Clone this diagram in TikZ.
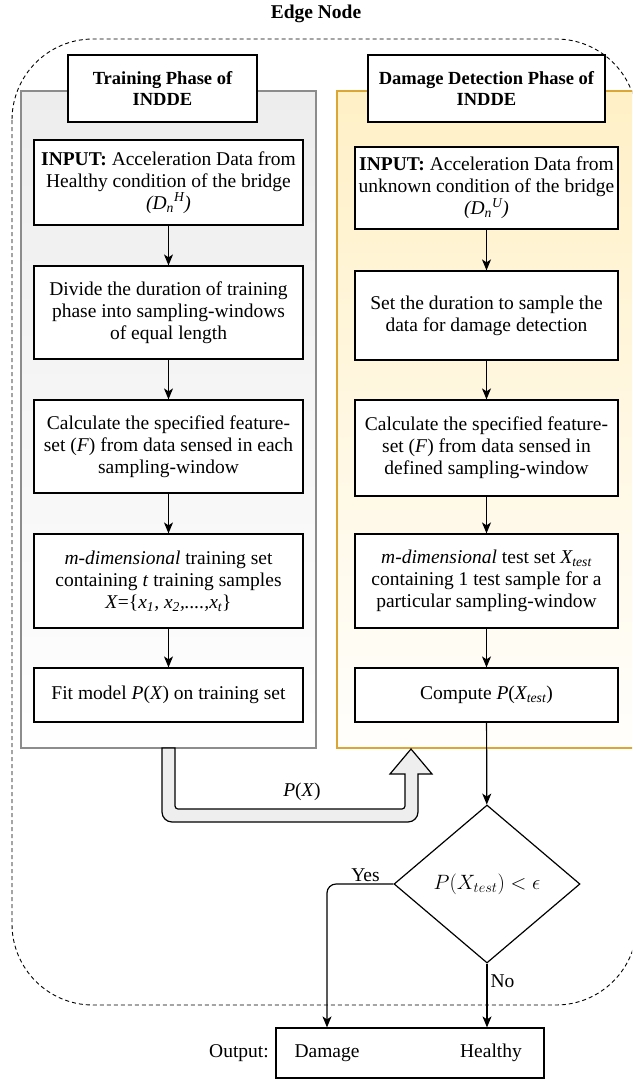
\documentclass[tikz,border=0pt]{standalone}
\usepackage{fontspec}
\setmainfont{Liberation Serif}
\usetikzlibrary{arrows.meta,shapes.geometric}

\definecolor{trainfill}{HTML}{EDEDED}
\definecolor{trainline}{HTML}{8C8C8C}
\definecolor{detectfill}{HTML}{FFF0C6}
\definecolor{detectline}{HTML}{DCA634}
\definecolor{pipefill}{HTML}{EEEEEE}

\begin{document}
\begin{tikzpicture}[x=1pt,y=-1pt,>={Stealth[length=11pt,width=9pt,inset=3pt]},
  line width=1.2pt,
  txt/.style={font=\fontsize{19.5}{22}\selectfont},
  box/.style={draw,fill=white,align=center,inner sep=2pt,txt},
  left box/.style={box,minimum width=269pt},
  right box/.style={box,minimum width=263pt},
  head node/.style={draw,fill=white,align=center,minimum height=67pt,
    font=\fontsize{18.5}{21}\selectfont\bfseries},
  edge zone/.style={draw,dash pattern=on 4pt off 3pt,line width=0.9pt,rounded corners=81pt}]

  \useasboundingbox (0,0) rectangle (632,1087);
  \clip (0,0) rectangle (632,1087);

  \node[font=\fontsize{19.5}{22}\selectfont\bfseries] (title) at (316,14) {Edge Node};
  \draw[edge zone] (12,39) rectangle (637,1005);

  % phase panels
  \node[draw=trainline,top color=trainfill,bottom color=white!97!trainfill,
    minimum width=295pt,minimum height=657pt] (train) at (168.5,419.5) {};
  \node[draw=detectline,top color=detectfill,bottom color=white!95!detectfill,
    minimum width=303pt,minimum height=657pt] (detect) at (488.5,419.5) {};
  \node[head node,minimum width=189pt] (trainhd) at (162.5,88.5) {Training Phase of\\INDDE};
  \node[head node,minimum width=237pt] (detecthd) at (486.5,88.5) {Damage Detection Phase of\\INDDE};

  % training column
  \node[left box,minimum height=85pt] (L1) at (168.5,182.5)
    {\textbf{INPUT:} Acceleration Data from\\Healthy condition of the bridge\\\textit{(D\textsubscript{n}\textsuperscript{H})}};
  \node[left box,minimum height=93pt] (L2) at (168.5,312.5)
    {Divide the duration of training\\phase into sampling-windows\\of equal length};
  \node[left box,minimum height=93pt] (L3) at (168.5,446.5)
    {Calculate the specified feature-\\set (\textit{F}) from data sensed in each\\sampling-window};
  \node[left box,minimum height=94pt] (L4) at (168.5,581)
    {\textit{m-dimensional} training set\\containing \textit{t} training samples\\\textit{X}=\{\textit{x\textsubscript{1}, x\textsubscript{2},....,x\textsubscript{t}}\}};
  \node[left box,minimum height=54pt] (L5) at (168.5,695)
    {Fit model \textit{P}(\textit{X}) on training set};

  % detection column
  \node[right box,minimum height=82pt] (R1) at (486.5,188)
    {\textbf{INPUT:} Acceleration Data from\\unknown condition of the bridge\\\textit{(D\textsubscript{n}\textsuperscript{U})}};
  \node[right box,minimum height=89pt] (R2) at (486.5,315.5)
    {Set the duration to sample the\\data for damage detection};
  \node[right box,minimum height=96pt] (R3) at (486.5,448)
    {Calculate the specified feature-\\set (\textit{F}) from data sensed in\\defined sampling-window};
  \node[right box,minimum height=94pt] (R4) at (486.5,581)
    {\textit{m-dimensional} test set \textit{X\textsubscript{test}}\\containing 1 test sample for a\\particular sampling-window};
  \node[right box,minimum height=54pt] (R5) at (486.5,695)
    {Compute \textit{P}(\textit{X\textsubscript{test}})};

  \foreach \a/\b in {L1/L2,L2/L3,L3/L4,L4/L5,R1/R2,R2/R3,R3/R4,R4/R5}
    \draw[->] (\a) -- (\b);

  % model handed over
  \draw[fill=pipefill] (162,748) -- (162,812) arc[start angle=180,end angle=90,radius=10]
    -- (408,822) arc[start angle=90,end angle=0,radius=10]
    -- (418,774) -- (432,774) -- (411,749) -- (390,774) -- (405,774)
    -- (405,806) arc[start angle=0,end angle=90,radius=3]
    -- (178,809) arc[start angle=90,end angle=180,radius=3] -- (175,748) -- cycle;
  \node[txt] (pxlabel) at (302,792) {\textit{P}(\textit{X})};

  % decision
  \node[draw,diamond,aspect=1.18,inner sep=0pt,minimum width=186pt,minimum height=158pt,
    font=\fontsize{20}{22}\selectfont] (dec) at (487,884) {$P(X_{test}) < \epsilon$};
  \draw[->] (R5) -- (dec);

  \node[draw,minimum width=268pt,minimum height=50pt] (out) at (410,1053) {};
  \node[txt] (dmg) at (327,1053) {Damage};
  \node[txt] (hlt) at (491,1053) {Healthy};
  \node[txt,left,inner sep=6pt] (outlbl) at (out.west) {Output:};

  \draw[->,rounded corners=9pt] (dec.west) -| node[txt,above,pos=0.21,inner sep=2pt] {Yes} (dmg |- out.north);
  \draw[->] (dec.south) -- node[txt,right,pos=0.27,inner sep=3pt] {No} (dec.south |- out.north);
\end{tikzpicture}
\end{document}
